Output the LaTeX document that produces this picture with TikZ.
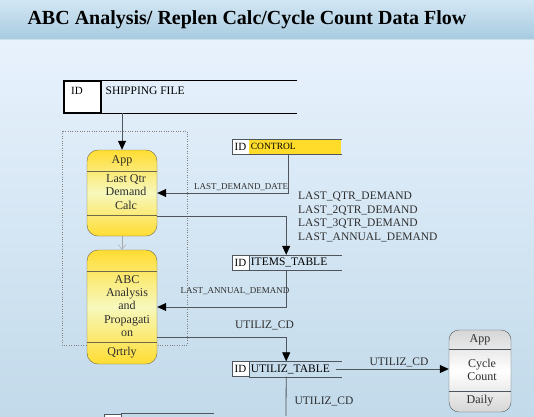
\documentclass[tikz,border=0pt]{standalone}
\usepackage{tikz}
\usepackage{xcolor}
\usepackage{fontspec}
\setmainfont{Liberation Serif}
\usetikzlibrary{shapes.geometric, arrows, arrows.meta, positioning, calc, shadows, fit}

\definecolor{headtop}{HTML}{D2E6F3}
\definecolor{headbot}{HTML}{A8CBE0}
\definecolor{bgtop}{HTML}{E8F2FD}
\definecolor{bgbot}{HTML}{C2DAEA}
\definecolor{appyellow}{HTML}{FFDD33}
\definecolor{applight}{HTML}{F6F8BC}
\definecolor{appedge}{HTML}{6E6A4A}
\definecolor{ctlyellow}{HTML}{FFDC2A}
\definecolor{flowline}{HTML}{4E555C}
\definecolor{txtgray}{HTML}{2E2E2E}
\definecolor{cycgray}{HTML}{D6D6D6}

\begin{document}
\begin{tikzpicture}[x=1pt, y=-1pt,
    appbox/.style={draw=appedge, rounded corners=11pt, minimum width=70pt, top color=appyellow, bottom color=appyellow, middle color=applight},
    cyclebox/.style={draw=flowline, rounded corners=10pt, minimum width=62pt, top color=cycgray, bottom color=cycgray, middle color=white},
    boxtxt/.style={font=\fontsize{12}{13.4}\selectfont, text=txtgray, align=center, inner sep=0pt},
    idbox/.style={draw=flowline, fill=white, minimum width=17pt, minimum height=15pt, inner sep=0pt, font=\fontsize{11}{12}\selectfont},
    tblname/.style={minimum width=92pt, minimum height=15pt, inner sep=1.5pt, text width=89pt, align=left, font=\fontsize{11.5}{12}\selectfont},
    flow/.style={draw=flowline, line width=0.8pt, -{Triangle[length=9pt, width=8pt, color=black]}},
    steparrow/.style={draw=gray!70, -{Straight Barb[length=5pt, width=8pt]}},
    lbl/.style={font=\fontsize{11.5}{13.6}\selectfont, text=txtgray, align=left, inner sep=0pt},
    smalllbl/.style={font=\fontsize{9}{10}\selectfont, text=txtgray, inner sep=0pt}]

    \useasboundingbox (0,0) rectangle (534,416);
    \shade[top color=bgtop, bottom color=bgbot] (0,39) rectangle (534,416);
    \shade[top color=headtop, bottom color=headbot] (0,0) rectangle (534,39);
    \draw[headbot!60!white] (0,39.5) -- (534,39.5);

    \node[anchor=base west, font=\fontsize{20}{22}\selectfont\bfseries] (title) at (24,24.5) {ABC Analysis/ Replen Calc/Cycle Count Data Flow};

    \node[draw, line width=1.2pt, fill=white, minimum width=37pt, minimum height=32pt, inner sep=0pt] (shipid) at (82.5,97) {};
    \node[minimum width=195pt, minimum height=32pt, inner sep=0pt, right=0pt of shipid] (ship) {};
    \draw[line width=1.2pt] (ship.north west) -- (ship.north east) (ship.south west) -- (ship.south east);
    \node[anchor=west, font=\fontsize{11}{12}\selectfont, inner sep=0pt] (shipidtxt) at (71,91) {ID};
    \node[anchor=west, font=\fontsize{11.5}{12}\selectfont, inner sep=0pt] (shiptxt) at (105.5,91) {SHIPPING FILE};

    \draw[dotted, gray] (62,131) rectangle (187,345);

    \node[appbox, minimum height=86pt] (calc) at (122,193) {};
    \draw[appedge] (calc.west |- 0,171) -- (calc.east |- 0,171) (calc.west |- 0,215) -- (calc.east |- 0,215);
    \node[boxtxt] (calcapp) at (122,161) {App};
    \node[boxtxt] (calcname) at (126,192) {Last Qtr\\Demand\\Calc};

    \node[appbox, minimum height=114pt] (abc) at (122,307) {};
    \draw[appedge] (abc.west |- 0,271) -- (abc.east |- 0,271) (abc.west |- 0,342) -- (abc.east |- 0,342);
    \node[boxtxt] (abcname) at (127,306) {ABC\\Analysis\\and\\Propagati\\on};
    \node[boxtxt] (abcfreq) at (122,353) {Qrtrly};

    \node[idbox] (ctlid) at (240.5,146.5) {ID};
    \node[tblname, fill=ctlyellow, font=\fontsize{9.5}{10}\selectfont, right=0pt of ctlid] (ctl) {CONTROL};
    \draw[flowline] (ctl.north west) -- (ctl.north east) (ctl.south west) -- (ctl.south east);

    \node[idbox] (itemsid) at (240.5,262.5) {ID};
    \node[tblname, right=0pt of itemsid] (items) {ITEMS\_TABLE};
    \draw[flowline] (items.north west) -- (items.north east) (items.south west) -- (items.south east);

    \node[idbox] (utilid) at (240.5,369) {ID};
    \node[tblname, right=0pt of utilid] (util) {UTILIZ\_TABLE};
    \draw[flowline] (util.north west) -- (util.north east) (util.south west) -- (util.south east);

    \node[idbox, anchor=north west] (nextid) at (104,413.5) {};
    \node[tblname, minimum width=91pt, anchor=north west] (next) at (nextid.north east) {};
    \draw[flowline] (next.north west) -- (next.north east);

    \node[cyclebox, minimum height=82pt] (cycle) at (480,371) {};
    \draw[flowline] (cycle.west |- 0,349) -- (cycle.east |- 0,349) (cycle.west |- 0,391) -- (cycle.east |- 0,391);
    \node[boxtxt] (cycleapp) at (480,340) {App};
    \node[boxtxt] (cyclename) at (482,370) {Cycle\\Count};
    \node[boxtxt] (cyclefreq) at (480,401) {Daily};

    \draw[flow] (calc.north |- ship.south) -- (calc.north);
    \draw[steparrow] (calc.south) -- (abc.north);
    \draw[flow] ($(ctl.south west)+(39,0)$) |- (calc.east);
    \draw[flow] (calc.east |- 0,216) -| ($(items.north west)+(37,0)$);
    \draw[flow] ($(items.south west)+(37,0)$) |- (abc.east);
    \draw[flow] (abc.east |- 0,337) -| ($(util.north west)+(37,0)$);
    \draw[flow] ($(util.east)+(-6,0)$) -- (util.east -| cycle.west);
    \coordinate (utilout) at (286,416);
    \draw[flowline, line width=0.8pt] ($(util.south west)+(37,0)$) -- (utilout);

    \node[smalllbl] (datelbl) at (241,187) {LAST\_DEMAND\_DATE};
    \node[lbl, anchor=west] (demandlbl) at (298,217) {LAST\_QTR\_DEMAND\\LAST\_2QTR\_DEMAND\\LAST\_3QTR\_DEMAND\\LAST\_ANNUAL\_DEMAND};
    \node[smalllbl] (annuallbl) at (235,291) {LAST\_ANNUAL\_DEMAND};
    \node[lbl] (utillbla) at (264.5,325) {UTILIZ\_CD};
    \node[lbl] (utillblb) at (399,362) {UTILIZ\_CD};
    \node[lbl] (utillblc) at (324,401) {UTILIZ\_CD};
\end{tikzpicture}
\end{document}
